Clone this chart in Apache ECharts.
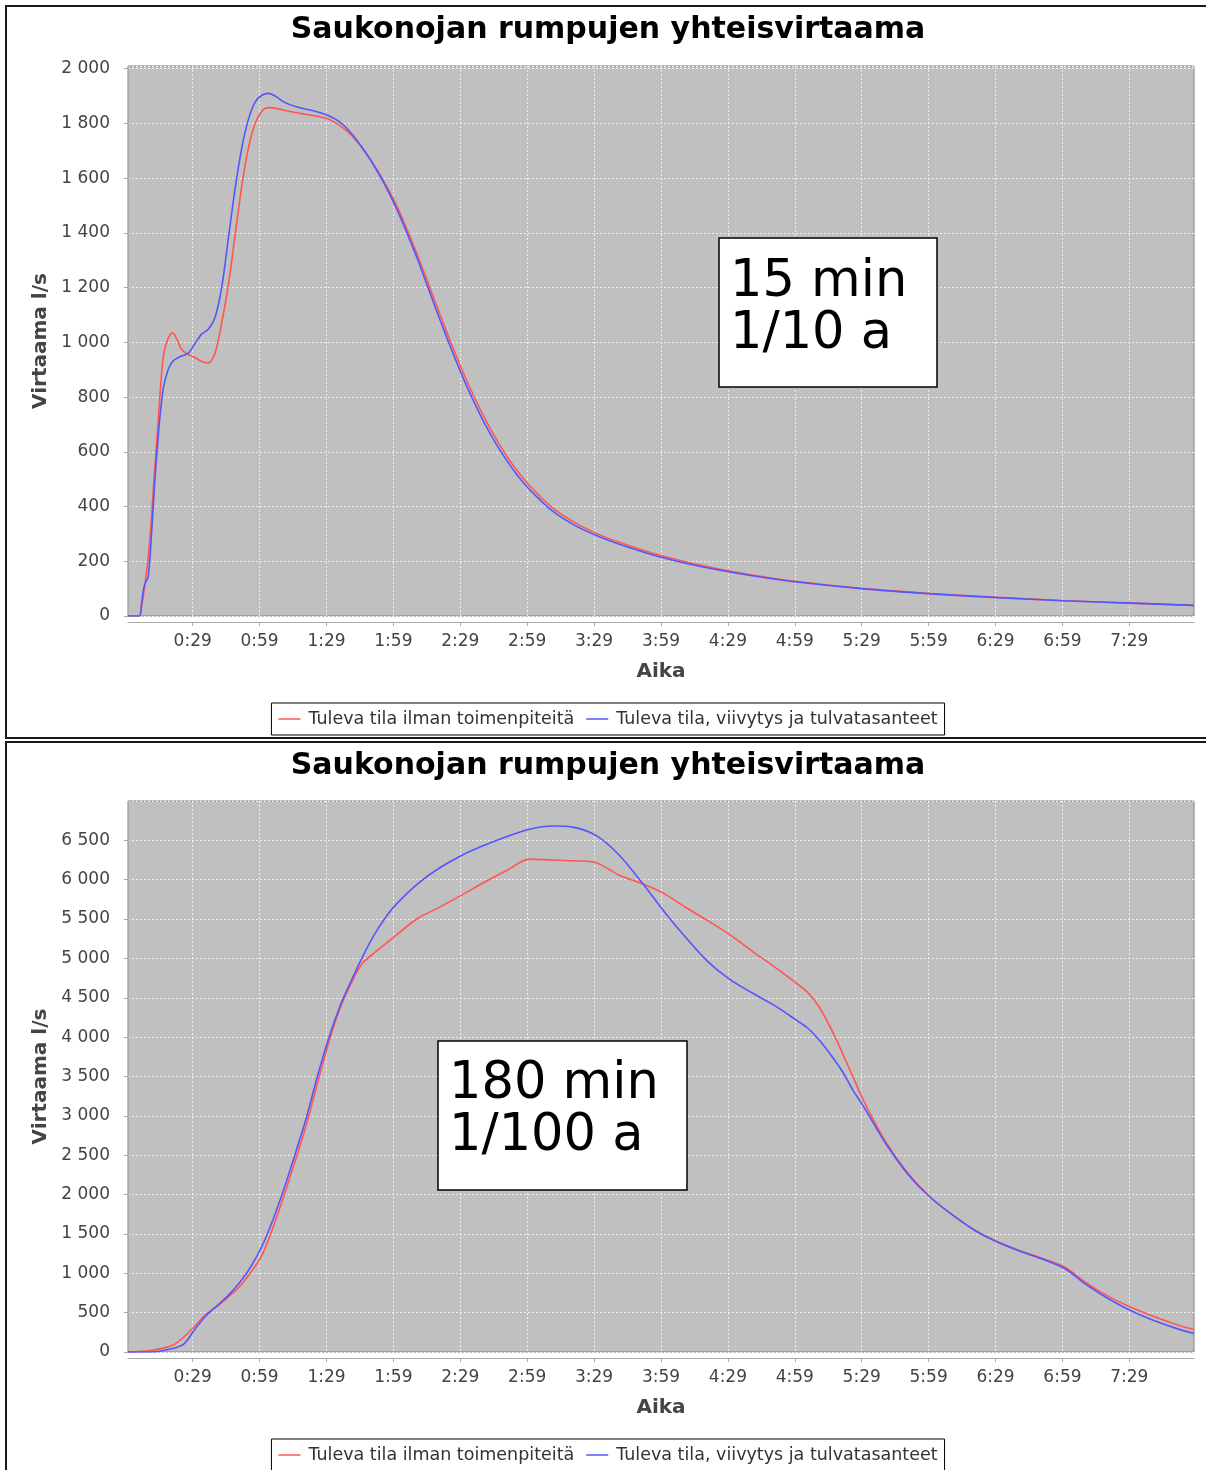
<!DOCTYPE html>
<html>
<head>
<meta charset="utf-8">
<title>Saukonojan rumpujen yhteisvirtaama</title>
<script src="https://cdn.jsdelivr.net/npm/echarts@6/dist/echarts.min.js"></script>
<style>
  html, body { margin: 0; padding: 0; background: #fff; overflow: hidden; width: 1206px; height: 1470px; }
  .panel { position: absolute; left: 5px; width: 1202px; border: 2px solid #1a1a1a; background: #fff; }
  #chart1 { top: 5px; height: 730px; }
  #chart2 { top: 741px; height: 740px; }
</style>
</head>
<body>
<div id="chart1" class="panel"></div>
<div id="chart2" class="panel"></div>
<script>
// yhteiset tekstit
var TITLE = 'Saukonojan rumpujen yhteisvirtaama';
var SERIES_NAMES = ['Tuleva tila ilman toimenpiteitä', 'Tuleva tila, viivytys ja tulvatasanteet'];
// x-akselin jakoviivat minuutteina (0:29, 0:59 ... 7:29)
var xTicks = [29, 59, 89, 119, 149, 179, 209, 239, 269, 299, 329, 359, 389, 419, 449];

// 15 min, 1/10 a
var time1 = [0, 5, 6, 7, 8, 9, 10, 11, 12, 13, 14, 15, 16, 18, 20, 22, 24, 27, 30, 33, 36, 39, 42, 45, 48, 51, 54, 57, 60, 63, 66, 70, 75, 80, 85, 90, 95, 100, 105, 110, 115, 120, 125, 130, 135, 140, 145, 150, 155, 160, 165, 170, 175, 180, 190, 200, 210, 220, 235, 250, 265, 280, 300, 330, 360, 390, 420, 450, 478];
var red1 = [0, 0, 30, 80, 140, 210, 300, 420, 540, 650, 770, 880, 955, 1015, 1035, 1010, 975, 955, 945, 930, 925, 960, 1070, 1210, 1390, 1570, 1710, 1800, 1845, 1858, 1856, 1848, 1840, 1833, 1826, 1815, 1792, 1758, 1710, 1652, 1585, 1508, 1415, 1315, 1208, 1100, 995, 895, 805, 722, 648, 582, 525, 477, 398, 343, 302, 270, 230, 198, 172, 150, 126, 100, 82, 68, 56, 47, 39];
var blue1 = [0, 0, 40, 100, 125, 140, 230, 360, 490, 600, 700, 780, 840, 900, 930, 942, 950, 960, 995, 1030, 1048, 1090, 1200, 1380, 1560, 1710, 1815, 1878, 1903, 1910, 1900, 1878, 1862, 1852, 1842, 1828, 1805, 1765, 1712, 1650, 1578, 1496, 1402, 1300, 1190, 1080, 975, 875, 785, 702, 630, 566, 510, 463, 386, 333, 294, 263, 224, 193, 168, 147, 124, 99, 81, 67, 56, 47, 39];

// 180 min, 1/100 a
var time2 = [0, 10, 20, 25, 30, 35, 40, 45, 50, 55, 60, 65, 70, 75, 80, 85, 90, 95, 100, 105, 110, 115, 120, 130, 140, 150, 160, 170, 180, 190, 200, 210, 220, 230, 240, 250, 260, 270, 280, 290, 300, 305, 310, 315, 320, 325, 330, 340, 350, 360, 370, 380, 390, 400, 410, 420, 430, 440, 450, 460, 470, 478];
var red2 = [0, 18, 85, 190, 330, 480, 580, 700, 830, 1010, 1225, 1580, 1990, 2430, 2890, 3420, 3930, 4360, 4680, 4935, 5060, 5175, 5290, 5510, 5655, 5810, 5970, 6120, 6262, 6250, 6240, 6215, 6060, 5955, 5830, 5650, 5480, 5300, 5090, 4890, 4680, 4560, 4380, 4120, 3820, 3500, 3185, 2660, 2260, 1960, 1735, 1540, 1400, 1285, 1190, 1080, 870, 700, 565, 450, 350, 285];
var blue2 = [0, 0, 45, 100, 290, 460, 590, 720, 880, 1080, 1340, 1680, 2080, 2520, 2980, 3510, 3990, 4390, 4710, 5010, 5280, 5500, 5680, 5950, 6155, 6315, 6440, 6550, 6640, 6682, 6665, 6560, 6320, 5980, 5610, 5270, 4960, 4730, 4560, 4400, 4210, 4110, 3960, 3780, 3580, 3330, 3110, 2640, 2250, 1960, 1735, 1540, 1395, 1280, 1180, 1060, 850, 670, 520, 400, 300, 235];

var FONT = '"DejaVu Sans", Verdana, sans-serif';

// aika muotoon h:mm
function fmtTime(v) {
  var m = Math.round(v);
  var mm = m % 60;
  return Math.floor(m / 60) + ':' + (mm < 10 ? '0' + mm : mm);
}
// tuhaterotin välilyönnillä
function fmtNum(v) {
  if (v < 1000) return String(v);
  var rest = String(v % 1000);
  while (rest.length < 3) rest = '0' + rest;
  return Math.floor(v / 1000) + ' ' + rest;
}
function pairs(t, v) {
  return t.map(function (x, i) { return [x, v[i]]; });
}

function buildOption(cfg) {
  return {
    animation: false,
    textStyle: { fontFamily: FONT },
    title: {
      text: TITLE,
      left: 'center',
      top: 3,
      textStyle: { fontFamily: FONT, fontSize: 30, fontWeight: 'bold', color: '#000' }
    },
    legend: {
      data: SERIES_NAMES,
      left: 'center',
      top: 696,
      orient: 'horizontal',
      icon: 'rect',
      itemWidth: 22,
      itemHeight: 1.5,
      itemGap: 12,
      padding: [7, 7, 7, 7],
      borderColor: '#000',
      borderWidth: 1,
      borderRadius: 0,
      backgroundColor: '#fff',
      textStyle: { fontFamily: FONT, fontSize: 17.5, color: '#333', padding: [0, 0, 0, 3] }
    },
    grid: {
      left: 121,
      top: cfg.gridTop,
      width: 1066,
      height: cfg.gridHeight,
      show: true,
      backgroundColor: '#c0c0c0',
      borderColor: '#808080',
      borderWidth: 1,
      outerBoundsMode: 'none'
    },
    xAxis: {
      type: 'value',
      min: 0,
      max: 478,
      offset: 6,
      name: 'Aika',
      nameLocation: 'middle',
      nameGap: 40,
      nameTextStyle: { fontFamily: FONT, fontSize: 20, fontWeight: 'bold', color: '#444' },
      axisLine: { show: true, onZero: false, lineStyle: { color: '#a8a8a8', width: 1 } },
      axisTick: { show: true, length: 4, customValues: xTicks, lineStyle: { color: '#a8a8a8' } },
      axisLabel: { customValues: xTicks, formatter: fmtTime, margin: 11, fontSize: 17, color: '#444' },
      splitLine: { show: true, lineStyle: { color: '#eeeeee', type: [2, 2], width: 1 } }
    },
    yAxis: {
      type: 'value',
      min: 0,
      max: cfg.yMax,
      interval: cfg.yStep,
      offset: 3,
      name: 'Virtaama l/s',
      nameLocation: 'middle',
      nameGap: 73,
      nameTextStyle: { fontFamily: FONT, fontSize: 20, fontWeight: 'bold', color: '#444' },
      axisLine: { show: true, lineStyle: { color: '#a8a8a8', width: 1 } },
      axisTick: { show: true, length: 4, lineStyle: { color: '#a8a8a8' } },
      axisLabel: { formatter: fmtNum, margin: 15, fontSize: 17, color: '#444', showMaxLabel: false },
      splitLine: { show: true, lineStyle: { color: '#eeeeee', type: [2, 2], width: 1 } }
    },
    // tekstilaatikko (sade ja toistuvuus)
    graphic: [
      {
        type: 'rect', z: 10,
        shape: { x: cfg.box[0], y: cfg.box[1], width: cfg.box[2], height: cfg.box[3] },
        style: { fill: '#fff', stroke: '#000', lineWidth: 1.5 }
      },
      {
        type: 'text', z: 11,
        style: {
          x: cfg.textPos[0], y: cfg.textPos[1],
          text: cfg.label,
          font: '51px ' + FONT,
          lineHeight: 52,
          verticalAlign: 'top',
          fill: '#000'
        }
      }
    ],
    series: [
      {
        name: SERIES_NAMES[0],
        type: 'line',
        data: pairs(cfg.time, cfg.red),
        showSymbol: false,
        symbol: 'none',
        smooth: 0.3,
        color: '#ff5555',
        lineStyle: { width: 1.6, color: '#ff5555' }
      },
      {
        name: SERIES_NAMES[1],
        type: 'line',
        data: pairs(cfg.time, cfg.blue),
        showSymbol: false,
        symbol: 'none',
        smooth: 0.3,
        color: '#5555ff',
        lineStyle: { width: 1.6, color: '#5555ff' }
      }
    ]
  };
}

var chart1 = echarts.init(document.getElementById('chart1'));
chart1.setOption(buildOption({
  gridTop: 59, gridHeight: 550, yMax: 2010, yStep: 200,
  time: time1, red: red1, blue: blue1,
  box: [712, 231, 218, 149], textPos: [723, 250], label: '15 min\n1/10 a'
}));

var chart2 = echarts.init(document.getElementById('chart2'));
chart2.setOption(buildOption({
  gridTop: 58, gridHeight: 551, yMax: 7000, yStep: 500,
  time: time2, red: red2, blue: blue2,
  box: [431, 298, 249, 149], textPos: [442, 316], label: '180 min\n1/100 a'
}));
</script>
</body>
</html>
